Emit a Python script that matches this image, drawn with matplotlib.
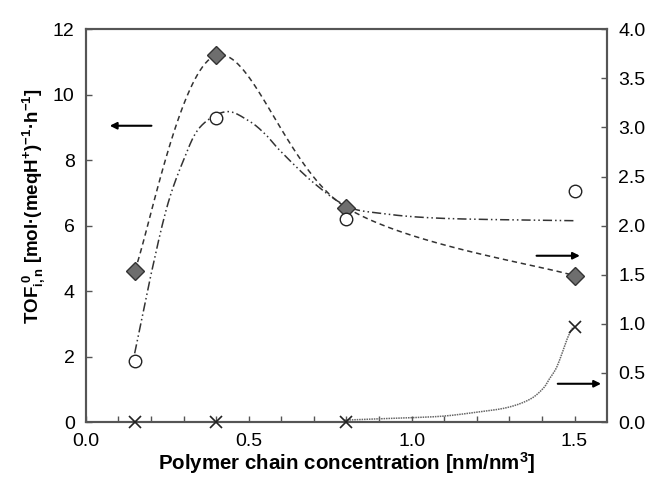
import numpy as np
import matplotlib
matplotlib.use("Agg")
import matplotlib.pyplot as plt

plt.rcParams['font.family'] = ['Liberation Sans', 'DejaVu Sans']
plt.rcParams['mathtext.fontset'] = 'custom'
plt.rcParams['mathtext.rm'] = 'Liberation Sans:bold'
plt.rcParams['mathtext.it'] = 'Liberation Sans:bold'
plt.rcParams['mathtext.bf'] = 'Liberation Sans:bold'

# measured points
conc = [0.15, 0.4, 0.8, 1.5]
tof_diamond = [4.62, 11.2, 6.55, 4.47]      # left axis
tof_circle = [1.88, 9.3, 6.2, 7.05]         # left axis
tof_cross = [0.0, 0.0, 0.0, 0.97]           # right axis

# model curve (dash-dot-dot), left axis
model_a_x = [0.15, 0.20, 0.25, 0.30, 0.35, 0.43, 0.50, 0.55, 0.60, 0.70, 0.80, 0.90, 1.10, 1.50]
model_a_y = [2.1, 4.5, 6.6, 8.0, 9.0, 9.48, 9.2, 8.8, 8.25, 7.3, 6.6, 6.38, 6.22, 6.15]

# model curve (dotted), right axis
model_b_x = [0.794, 0.902, 0.994, 1.095, 1.187, 1.291, 1.362, 1.403, 1.423, 1.444, 1.464, 1.479, 1.494]
model_b_y = [0.02, 0.034, 0.044, 0.06, 0.095, 0.146, 0.23, 0.34, 0.44, 0.55, 0.72, 0.86, 0.96]


def smooth(x, y, n=40):
    # excel-like smoothed line (catmull-rom / bezier)
    p = np.column_stack([x, y]).astype(float)
    p = np.vstack([p[0], p, p[-1]])
    out = []
    t = np.linspace(0, 1, n)[:, None]
    for i in range(1, len(p) - 2):
        p0, p1, p2, p3 = p[i - 1], p[i], p[i + 1], p[i + 2]
        b1 = p1 + (p2 - p0) / 6
        b2 = p2 - (p3 - p1) / 6
        seg = (1 - t) ** 3 * p1 + 3 * (1 - t) ** 2 * t * b1 + 3 * (1 - t) * t ** 2 * b2 + t ** 3 * p2
        out.append(seg)
    out = np.vstack(out)
    return out[:, 0], out[:, 1]


fig = plt.figure(figsize=(6.5, 4.78), dpi=100)
ax = fig.add_axes([0.132, 0.117, 0.802, 0.822])
ax2 = ax.twinx()

sx, sy = smooth(conc, tof_diamond)
ax.plot(sx, sy, ls=(0, (3.5, 2.5)), color='#333333', lw=1.1)
mx, my = smooth(model_a_x, model_a_y, 20)
ax.plot(mx, my, ls=(0, (6, 2, 1, 2, 1, 2)), color='#333333', lw=1.1)
bx, by = smooth(model_b_x, model_b_y, 20)
ax2.plot(bx, by, ls=(0, (1, 0.6)), color='#666666', lw=1.1)

ax.plot(conc, tof_diamond, 'D', ms=9, mfc='#6e6e6e', mec='#333333', mew=1, ls='none', zorder=5)
ax.plot(conc, tof_circle, 'o', ms=9, mfc='white', mec='#222222', mew=1, ls='none', zorder=5)
ax2.plot(conc, tof_cross, 'x', ms=8, color='#222222', mew=1.2, ls='none', zorder=5, clip_on=False)

ax.set_xlim(0, 1.6)
ax.set_ylim(0, 12)
ax2.set_ylim(0, 4)
ax.set_xticks([0.0, 0.5, 1.0, 1.5])
ax.set_xticklabels(['0.0', '0.5', '1.0', '1.5'])
ax.set_xticks(np.arange(0.1, 1.6, 0.1), minor=True)
ax.set_yticks(np.arange(0, 13, 2))
ax2.set_yticks(np.arange(0, 4.01, 0.5))
ax2.set_yticklabels(['%.1f' % v for v in np.arange(0, 4.01, 0.5)])

for a in (ax, ax2):
    for s in a.spines.values():
        s.set_color('#555555')
        s.set_linewidth(1.5)
ax.tick_params(axis='x', which='both', direction='in', length=4, width=1, color='#555555',
               labelsize=14, pad=8)
ax.tick_params(axis='y', direction='in', length=4, width=1, color='#555555', labelsize=14, pad=8)
ax2.tick_params(axis='y', direction='in', length=4, width=1, color='#555555', labelsize=14, pad=8)

ax.set_xlabel('Polymer chain concentration [nm/nm$^{3}$]', fontsize=14.8, fontweight='bold', labelpad=0)
ax.set_ylabel(r'$\mathbf{TOF_{i,n}^{\ 0}}$ [mol·(meqH$^{+}$)$^{-1}$·h$^{-1}$]', fontsize=13.5,
              fontweight='bold')
ax.yaxis.set_label_coords(-0.075, 0.55)

arrow = dict(arrowstyle='-|>', color='black', lw=1.5, mutation_scale=10)
ax.annotate('', xy=(0.065, 9.05), xytext=(0.21, 9.05), arrowprops=arrow)
ax.annotate('', xy=(1.525, 5.08), xytext=(1.375, 5.08), arrowprops=arrow)
ax.annotate('', xy=(1.59, 1.17), xytext=(1.44, 1.17), arrowprops=arrow)

fig.savefig('out.png', dpi=100)
